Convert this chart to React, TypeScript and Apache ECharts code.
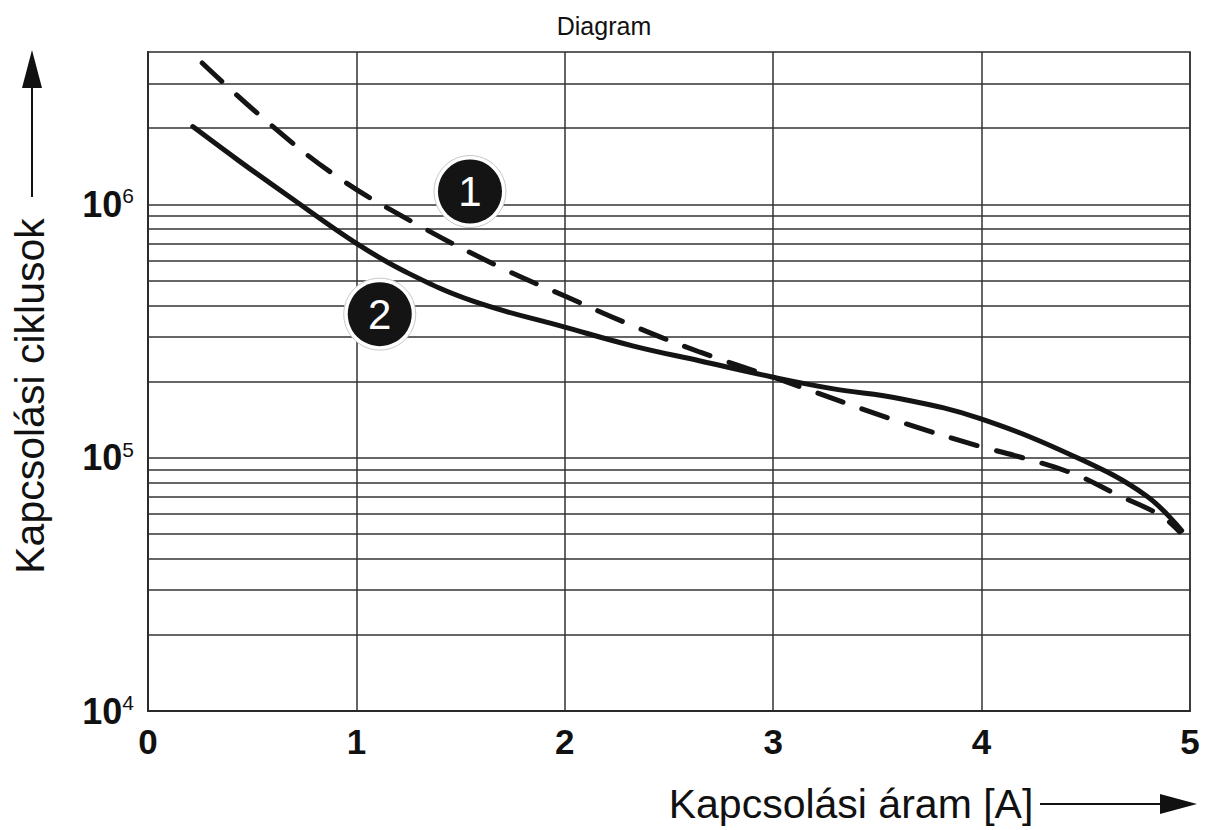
import React, { useEffect, useRef } from "react";
import * as echarts from "echarts";

// Curve 1 (dashed)
const dashedX = [0.26, 0.55, 0.9, 1.29, 1.69, 2.0, 2.33, 2.65, 3.0, 3.57, 3.99, 4.16, 4.44, 4.65, 4.86, 4.95];
const dashedY = [3.62e6, 2.2e6, 1.3e6, 8.35e5, 5.65e5, 4.35e5, 3.31e5, 2.61e5, 2.08e5, 1.42e5, 1.11e5, 1.02e5, 8.65e4, 7.15e4, 5.91e4, 5.1e4];

// Curve 2 (solid)
const solidX = [0.215, 0.44, 0.68, 1.0, 1.24, 1.56, 2.0, 2.33, 2.65, 3.0, 3.29, 3.61, 3.99, 4.47, 4.79, 4.96];
const solidY = [2.03e6, 1.48e6, 1.07e6, 7.02e5, 5.4e5, 4.15e5, 3.28e5, 2.76e5, 2.41e5, 2.08e5, 1.87e5, 1.71e5, 1.43e5, 9.9e4, 7.08e4, 5.16e4];

// Curve markers
const markerX = [1.545, 1.112];
const markerY = [1.125e6, 3.69e5];
const markerLabels = ["1", "2"];

// Horizontal grid lines (log axis, every mantissa)
const yGridValues = [
  2e4, 3e4, 4e4, 5e4, 6e4, 7e4, 8e4, 9e4,
  1e5, 2e5, 3e5, 4e5, 5e5, 6e5, 7e5, 8e5, 9e5,
  1e6, 2e6, 3e6,
];

const xTicks = [0, 1, 2, 3, 4, 5];

const titleText = "Diagram";
const xName = "Kapcsolási áram [A]";
const yName = "Kapcsolási ciklusok";

const FONT = "'Liberation Sans', Arial, Helvetica, sans-serif";
const INK = "#141414";

export default function App() {
  const ref = useRef<HTMLDivElement>(null);

  useEffect(() => {
    if (!ref.current) return;
    const chart = echarts.init(ref.current, undefined, { renderer: "svg" });

    const option: any = {
      animation: false,
      backgroundColor: "#ffffff",
      title: {
        text: titleText,
        left: "center",
        top: 8,
        textStyle: { fontFamily: FONT, fontSize: 25, fontWeight: "normal", color: "#111" },
      },
      grid: {
        left: 148,
        right: 18,
        top: 52,
        bottom: 119,
        show: true,
        borderColor: "#2a2a2a",
        borderWidth: 1.5,
        backgroundColor: "transparent",
      },
      xAxis: {
        type: "value",
        min: xTicks[0],
        max: xTicks[xTicks.length - 1],
        interval: 1,
        axisLine: { show: true, lineStyle: { color: "#2a2a2a", width: 2 } },
        axisTick: { show: false },
        splitLine: { show: true, lineStyle: { color: "#333", width: 1.5 } },
        axisLabel: {
          fontFamily: FONT,
          fontSize: 35,
          fontWeight: "bold",
          color: "#111",
          margin: 13,
        },
      },
      yAxis: {
        type: "log",
        logBase: 10,
        min: 1e4,
        max: 4e6,
        axisLine: { show: true, onZero: false, lineStyle: { color: "#2a2a2a", width: 2 } },
        axisTick: { show: false },
        splitLine: { show: false },
        axisLabel: {
          margin: 14,
          formatter: (v: number) => {
            const e = Math.round(Math.log10(v));
            if (Math.abs(v - Math.pow(10, e)) > 1e-6 * v) return "";
            return `{b|10}{s|${e}}`;
          },
          rich: {
            b: { fontFamily: FONT, fontSize: 36, fontWeight: "bold", color: "#111", lineHeight: 38 },
            s: { fontFamily: FONT, fontSize: 21, color: "#111", verticalAlign: "top", lineHeight: 21 },
          },
        },
      },
      graphic: [
        {
          type: "text",
          x: 30,
          y: 396,
          rotation: Math.PI / 2,
          style: {
            text: yName,
            fontFamily: FONT,
            fontSize: 41,
            fill: "#111",
            align: "center",
            verticalAlign: "middle",
          },
        },
        { type: "line", shape: { x1: 32, y1: 197, x2: 32, y2: 84 }, style: { stroke: "#111", lineWidth: 2 } },
        { type: "polygon", shape: { points: [[22, 88], [42, 88], [32, 50]] }, style: { fill: "#111" } },
        {
          type: "text",
          x: 851,
          y: 804,
          style: {
            text: xName,
            fontFamily: FONT,
            fontSize: 41,
            fill: "#111",
            align: "center",
            verticalAlign: "middle",
          },
        },
        { type: "line", shape: { x1: 1040, y1: 804, x2: 1164, y2: 804 }, style: { stroke: "#111", lineWidth: 2 } },
        { type: "polygon", shape: { points: [[1160, 794], [1160, 814], [1197, 804]] }, style: { fill: "#111" } },
      ],
      series: [
        {
          name: "grid",
          type: "line",
          data: [],
          silent: true,
          z: 1,
          markLine: {
            silent: true,
            z: 1,
            symbol: "none",
            label: { show: false },
            lineStyle: { type: "solid", color: "#333", width: 1.5 },
            emphasis: { disabled: true },
            data: yGridValues.map((v) => ({ yAxis: v })),
          },
        },
        {
          name: "1",
          type: "line",
          z: 3,
          smooth: 0.4,
          showSymbol: false,
          lineStyle: { color: INK, width: 5, type: [27, 20], cap: "round" },
          data: dashedX.map((x, i) => [x, dashedY[i]]),
        },
        {
          name: "2",
          type: "line",
          z: 3,
          smooth: 0.4,
          showSymbol: false,
          lineStyle: { color: INK, width: 5, type: "solid", cap: "round" },
          data: solidX.map((x, i) => [x, solidY[i]]),
        },
        {
          name: "ring",
          type: "scatter",
          z: 6,
          silent: true,
          symbol: "circle",
          symbolSize: 72,
          itemStyle: { color: "#ffffff", borderColor: "#c8c8c8", borderWidth: 1, opacity: 1 },
          data: markerX.map((x, i) => [x, markerY[i]]),
        },
        {
          name: "markers",
          type: "scatter",
          z: 7,
          silent: true,
          symbol: "circle",
          symbolSize: 64,
          itemStyle: { color: INK, opacity: 1 },
          label: {
            show: true,
            position: "inside",
            formatter: "{b}",
            fontFamily: FONT,
            fontSize: 42,
            color: "#ffffff",
          },
          data: markerX.map((x, i) => ({ name: markerLabels[i], value: [x, markerY[i]] })),
        },
      ],
    };

    chart.setOption(option);
    return () => chart.dispose();
  }, []);

  return (
    <div
      ref={ref}
      style={{ position: "absolute", left: 0, top: 0, width: 1208, height: 830 }}
    />
  );
}
